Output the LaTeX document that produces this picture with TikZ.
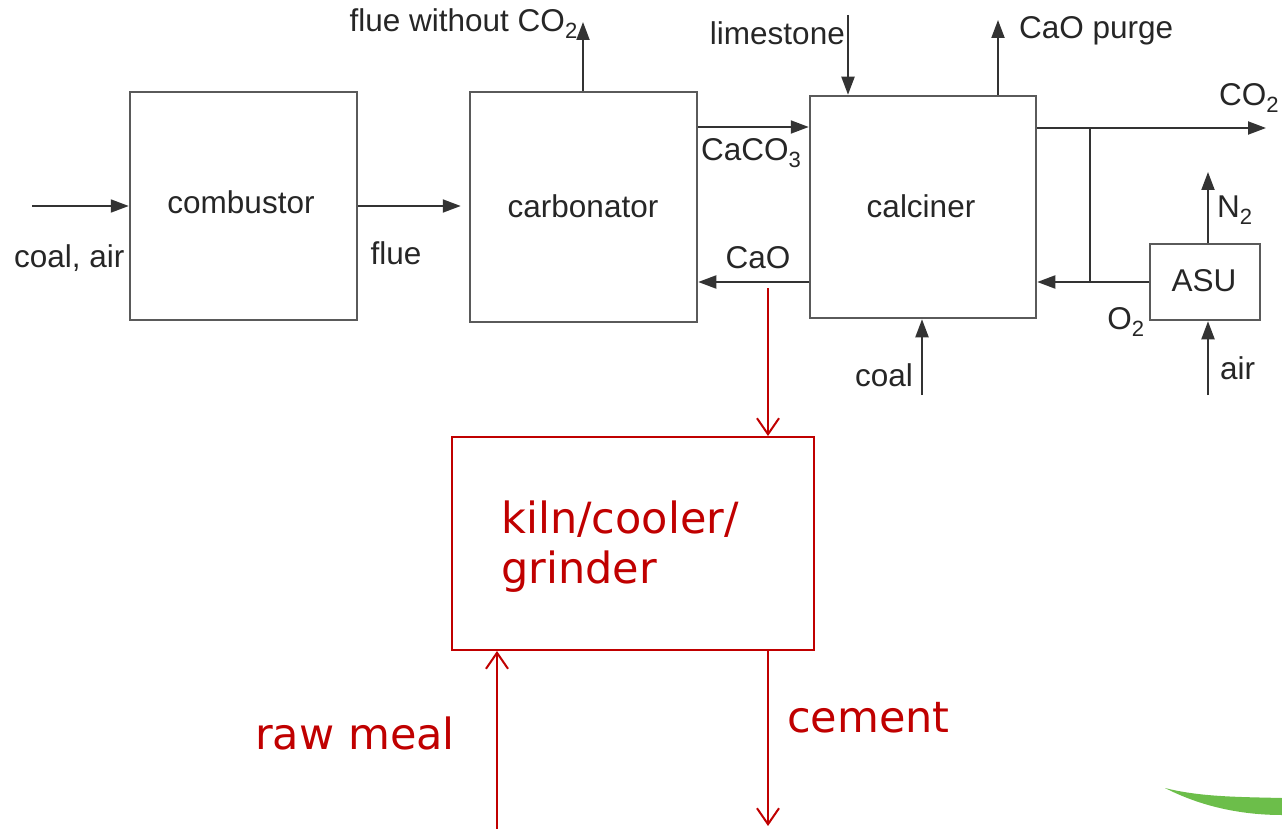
\documentclass[tikz,border=0pt]{standalone}
\usepackage{fontspec}
\setmainfont{Liberation Sans}
\newfontfamily\redfont{DejaVu Sans}
\usetikzlibrary{arrows.meta}
\definecolor{kred}{HTML}{C00000}
\definecolor{lineg}{HTML}{333333}
\definecolor{boxg}{HTML}{5A5A5A}
\definecolor{swoosh}{HTML}{6CBE4A}
\tikzset{
  unitbox/.style={draw=boxg, line width=2.5pt, rectangle, inner sep=0pt},
  redbox/.style={draw=kred, line width=2pt, rectangle, inner sep=0pt},
  lbl/.style={inner sep=0pt, text=black!85, font=\fontsize{31.5pt}{36pt}\selectfont},
  redlbl/.style={inner sep=0pt, text=kred, font=\redfont\fontsize{43pt}{50pt}\selectfont},
  arr/.style={draw=lineg, line width=2pt, -{Triangle[length=18pt,width=13pt]}},
  plain/.style={draw=lineg, line width=2pt},
  redarr/.style={draw=kred, line width=2pt, -{Straight Barb[length=16pt,width=22pt]}},
}
\begin{document}
\begin{tikzpicture}[x=1pt,y=-1pt]
\useasboundingbox (0,0) rectangle (1282,829);
% boxes
\node[unitbox, minimum width=227pt, minimum height=228pt] (comb) at (243.5,206) {};
\node[lbl] (combt) at (241,202) {combustor};
\node[unitbox, minimum width=227pt, minimum height=230pt] (carb) at (583.5,207) {};
\node[lbl] (carbt) at (583,206) {carbonator};
\node[unitbox, minimum width=226pt, minimum height=222pt] (calc) at (923,207) {};
\node[lbl] (calct) at (921,206) {calciner};
\node[unitbox, minimum width=110pt, minimum height=76pt] (asu) at (1205,282) {};
\node[lbl] (asut) at (1204,281) {ASU};
\node[redbox, minimum width=362pt, minimum height=213pt] (kiln) at (633,543.5) {};
\node[redlbl, anchor=west, align=left] (kilnt) at (501,547) {kiln/cooler/\\grinder};
% coordinates
\coordinate (cain) at (32,206);
\coordinate (fluetop) at (583,22);
\coordinate (caco3y) at (0,127);
\coordinate (caoy) at (0,282);
\coordinate (limetop) at (848,15);
\coordinate (purgetop) at (998,20);
\coordinate (co2end) at (1266,128);
\coordinate (junc) at (1090,128);
\coordinate (n2top) at (1208,172);
\coordinate (airbot) at (1208,395);
\coordinate (coalbot) at (922,395);
\coordinate (redsplit) at (768,288);
\coordinate (rawbot) at (497,829);
\coordinate (cembot) at (768,826);
% black connectors
\draw[arr] (cain) -- (cain -| comb.west);
\draw[arr, shorten >=8pt] (comb.east |- cain) -- (cain -| carb.west);
\draw[arr] (fluetop |- carb.north) -- (fluetop);
\draw[arr] (carb.east |- caco3y) -- (calc.west |- caco3y);
\draw[arr] (calc.west |- caoy) -- (carb.east |- caoy);
\draw[arr] (limetop) -- (limetop |- calc.north);
\draw[arr] (purgetop |- calc.north) -- (purgetop);
\draw[arr] (calc.east |- co2end) -- (co2end);
\draw[plain] (junc) -- (junc |- asu.west);
\draw[arr] (asu.west) -- (asu.west -| calc.east);
\draw[arr] (n2top |- asu.north) -- (n2top);
\draw[arr] (airbot) -- (airbot |- asu.south);
\draw[arr] (coalbot) -- (coalbot |- calc.south);
% black labels
\node[lbl, anchor=east] (lfwc) at (578,24) {flue without CO\textsubscript{2}};
\node[lbl, anchor=east] (llime) at (845,33) {limestone};
\node[lbl, anchor=west] (lpurge) at (1019,31) {CaO purge};
\node[lbl, anchor=west] (lco2) at (1219,98) {CO\textsubscript{2}};
\node[lbl, anchor=west] (lcaco3) at (701,153) {CaCO\textsubscript{3}};
\node[lbl] (lcao) at (758,258) {CaO};
\node[lbl] (lflue) at (396,253) {flue};
\node[lbl, anchor=west] (lcoalair) at (14,258) {coal, air};
\node[lbl, anchor=west] (ln2) at (1217,210) {N\textsubscript{2}};
\node[lbl] (lo2) at (1126,322) {O\textsubscript{2}};
\node[lbl, anchor=east] (lcoal) at (913,375) {coal};
\node[lbl, anchor=west] (lair) at (1220,368) {air};
% red connectors
\draw[redarr] (redsplit) -- (redsplit |- kiln.north);
\draw[redarr] (rawbot) -- (rawbot |- kiln.south);
\draw[redarr] (cembot |- kiln.south) -- (cembot);
\node[redlbl, anchor=east] (lraw) at (455,733) {raw meal};
\node[redlbl, anchor=west] (lcem) at (787,718) {cement};
% green swoosh
\fill[swoosh] (1165,788) .. controls (1200,806) and (1240,815) .. (1282,815) -- (1282,798) .. controls (1240,797) and (1200,797) .. (1165,788) -- cycle;
\end{tikzpicture}
\end{document}
